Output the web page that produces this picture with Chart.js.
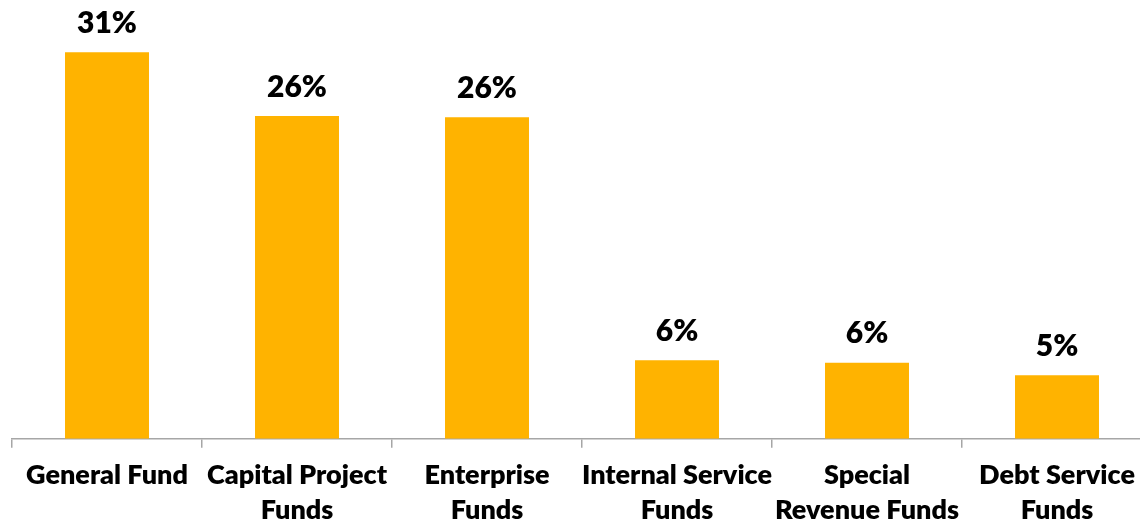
<!DOCTYPE html>
<html lang="en">
<head>
  <meta charset="UTF-8" />
  <title>Funds</title>
  <script src="https://cdn.jsdelivr.net/npm/chart.js"></script>
  <style>
    html, body { margin: 0; padding: 0; background: #fff; overflow: hidden; }
    #wrap { width: 1152px; height: 523px; }
  </style>
</head>
<body>
  <div id="wrap">
    <canvas id="fundChart" width="1152" height="523"></canvas>
  </div>

  <script>
    // category labels (multi-line)
    const funds = [
      ['General Fund'],
      ['Capital Project', 'Funds'],
      ['Enterprise', 'Funds'],
      ['Internal Service', 'Funds'],
      ['Special', 'Revenue Funds'],
      ['Debt Service', 'Funds']
    ];
    // share of total, percent
    const shares = [31.0, 25.9, 25.8, 6.3, 6.1, 5.1];

    const barColor = '#FFB300';
    const axisColor = '#A6A6A6';
    const fontFamily = 'Lato, "Open Sans", sans-serif';

    // draws the % label above each bar
    const valueLabels = {
      id: 'valueLabels',
      afterDatasetsDraw(chart) {
        const ctx = chart.ctx;
        const meta = chart.getDatasetMeta(0);
        ctx.save();
        ctx.font = '800 30px ' + fontFamily;
        ctx.fillStyle = '#000';
        ctx.textAlign = 'center';
        ctx.textBaseline = 'middle';
        meta.data.forEach((bar, i) => {
          ctx.fillText(Math.round(shares[i]) + '%', bar.x, bar.y - 29);
        });
        ctx.restore();
      }
    };

    const ctx = document.getElementById('fundChart').getContext('2d');
    new Chart(ctx, {
      type: 'bar',
      data: {
        labels: funds,
        datasets: [{
          data: shares,
          backgroundColor: barColor,
          borderWidth: 0,
          barPercentage: 0.442,
          categoryPercentage: 1
        }]
      },
      options: {
        responsive: false,
        animation: false,
        layout: { padding: { left: 12, right: 0, top: 0, bottom: -15 } },
        plugins: {
          legend: { display: false },
          tooltip: { enabled: false }
        },
        scales: {
          x: {
            offset: true,
            grid: {
              display: true,
              drawOnChartArea: false,
              offset: true,
              tickLength: 9,
              color: axisColor,
              lineWidth: 1.5
            },
            border: { display: true, color: axisColor, width: 1.5 },
            ticks: {
              color: '#000',
              maxRotation: 0,
              autoSkip: false,
              padding: 10,
              font: { family: fontFamily, size: 27, weight: '800', lineHeight: 1.3 }
            }
          },
          y: {
            display: false,
            min: 0,
            max: 35.2
          }
        }
      },
      plugins: [valueLabels]
    });
  </script>
</body>
</html>
